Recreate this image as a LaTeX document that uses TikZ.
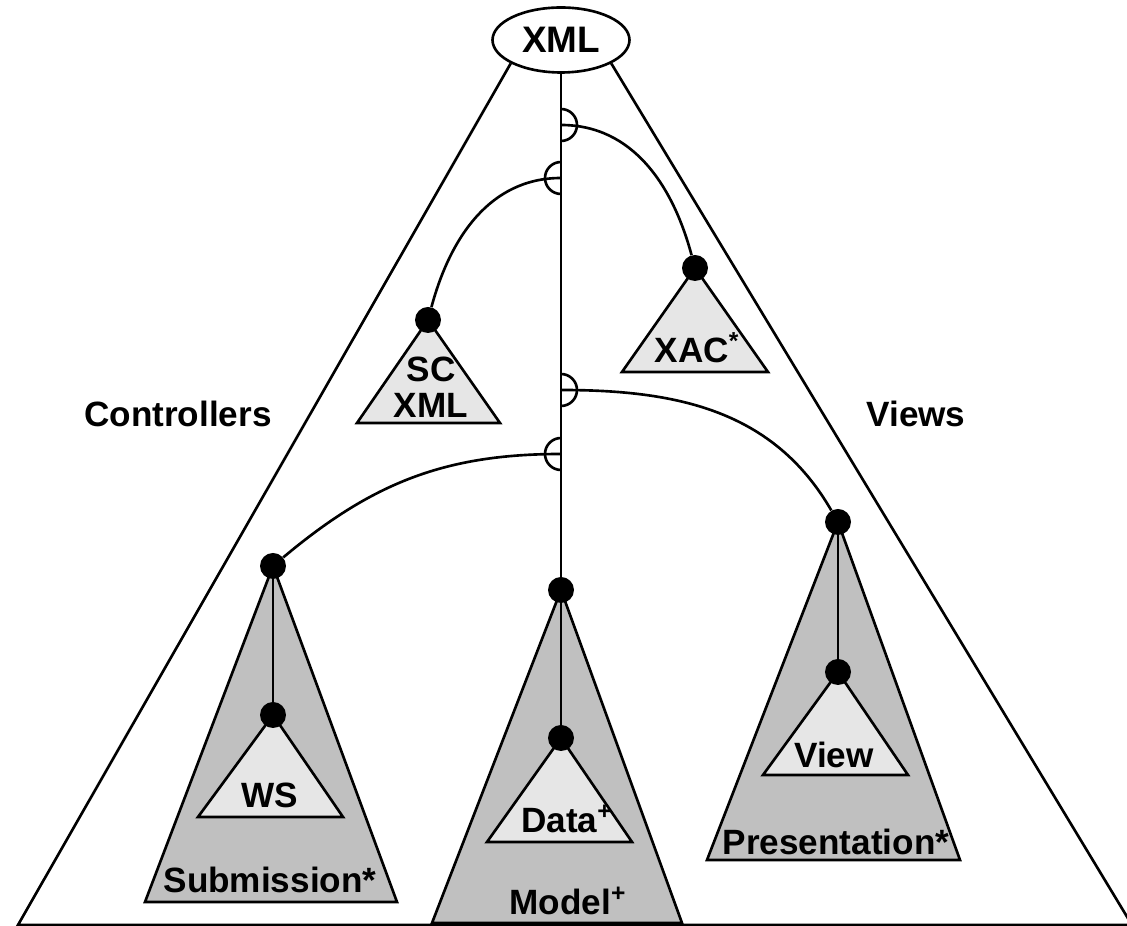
\documentclass[tikz,border=0pt]{standalone}
\usepackage{fontspec}
\setmainfont{Liberation Sans}
\usetikzlibrary{shapes.geometric}
\definecolor{outergray}{HTML}{C0C0C0}
\definecolor{innergray}{HTML}{E6E6E6}
\tikzset{
  wire/.style={line width=1.5pt},
  joint/.style={circle,fill=black,inner sep=0pt,minimum size=0.52cm},
  lbl/.style={font=\fontsize{20}{20.5}\selectfont\bfseries,inner sep=0pt,anchor=base},
  outertri/.style={wire,fill=outergray},
  innertri/.style={wire,fill=innergray}
}
\begin{document}
\begin{tikzpicture}[x=0.02cm,y=0.02cm]
\useasboundingbox (0,0) rectangle (1127,926);
\node[draw,wire,ellipse,minimum width=2.74cm,minimum height=1.3cm,inner sep=0pt,
      font=\fontsize{21}{22}\selectfont\bfseries] (xml) at (561,886) {XML};
\draw[wire] (xml.-155) -- (18,1) -- (1132,1) -- (xml.-25);

\coordinate (sc) at (428,606);
\coordinate (xac) at (695,658);
\coordinate (sub) at (273,360);
\coordinate (ws) at (273,211);
\coordinate (model) at (561,336);
\coordinate (data) at (561,188);
\coordinate (pres) at (838,404);
\coordinate (view) at (838,254);

\draw[innertri] (sc) -- (357,503) -- (500,503) -- cycle;
\draw[innertri] (xac) -- (622,554) -- (768,554) -- cycle;
\draw[outertri] (sub) -- (145,24) -- (397,24) -- cycle;
\draw[innertri] (ws) -- (198,109) -- (343,109) -- cycle;
\draw[outertri] (model) -- (432,3) -- (682,3) -- cycle;
\draw[innertri] (data) -- (487,84) -- (632,84) -- cycle;
\draw[outertri] (pres) -- (707,66) -- (960,66) -- cycle;
\draw[innertri] (view) -- (763,151) -- (908,151) -- cycle;

\draw[wire] (sub) -- (ws);
\draw[wire] (model) -- (data);
\draw[wire] (pres) -- (view);
\draw[wire] (xml.south) -- (model);

\node[joint] (scdot) at (sc) {};
\node[joint] (xacdot) at (xac) {};
\node[joint] (subdot) at (sub) {};
\node[joint] (wsdot) at (ws) {};
\node[joint] (modeldot) at (model) {};
\node[joint] (datadot) at (data) {};
\node[joint] (presdot) at (pres) {};
\node[joint] (viewdot) at (view) {};

\coordinate (s1) at (561,801);
\coordinate (s2) at (561,748);
\coordinate (s3) at (561,536);
\coordinate (s4) at (561,472);
\draw[wire] (s1) ++(0,16) arc[start angle=90,end angle=-90,radius=0.32cm];
\draw[wire] (s2) ++(0,16) arc[start angle=90,end angle=270,radius=0.32cm];
\draw[wire] (s3) ++(0,16) arc[start angle=90,end angle=-90,radius=0.32cm];
\draw[wire] (s4) ++(0,16) arc[start angle=90,end angle=270,radius=0.32cm];
\draw[wire] (s1) to[out=0,in=105] (xacdot);
\draw[wire] (s2) to[out=180,in=75] (scdot);
\draw[wire] (s3) to[out=0,in=120] (presdot);
\draw[wire] (s4) to[out=180,in=40] (subdot);

\node[lbl] (ctrl) at (178,499) {Controllers};
\node[lbl] (views) at (916,499) {Views};
\node[lbl,align=center] (scxml) at (431,508) {SC\\XML};
\node[lbl] (xaclbl) at (697,563) {XAC\textsuperscript{*}};
\node[lbl] (wslbl) at (270,118) {WS};
\node[lbl] (sublbl) at (270,33) {Submission*};
\node[lbl] (datalbl) at (567,93) {Data\textsuperscript{+}};
\node[lbl] (modellbl) at (568,11) {Model\textsuperscript{+}};
\node[lbl] (viewlbl) at (834,158) {View};
\node[lbl] (preslbl) at (836,71) {Presentation*};
\end{tikzpicture}
\end{document}
